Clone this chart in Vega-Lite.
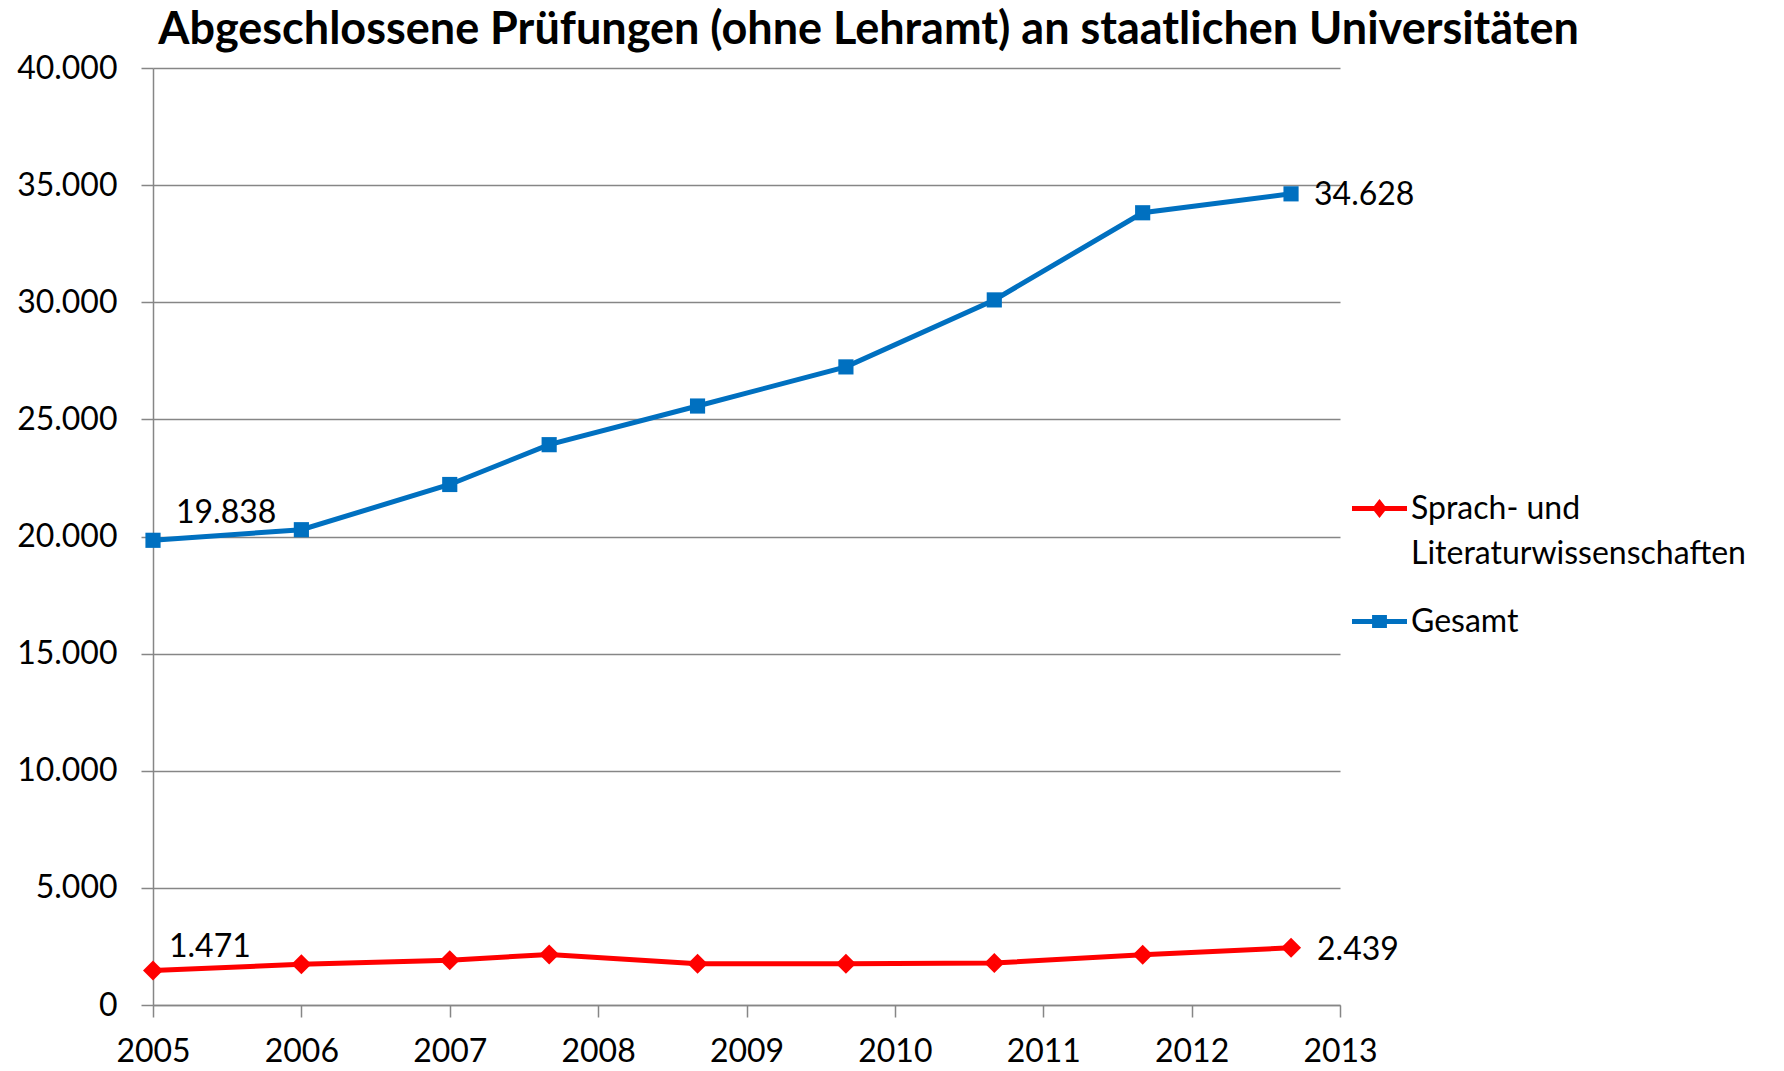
{
  "$schema": "https://vega.github.io/schema/vega-lite/v6.json",
  "width": 1187,
  "height": 937,
  "padding": {"left": 16, "top": 8, "right": 5, "bottom": 5},
  "background": "white",
  "config": {
    "locale": {"number": {"decimal": ",", "thousands": ".", "grouping": [3], "currency": ["", " €"]}},
    "font": "Lato",
    "view": {"stroke": null},
    "style": {"guide-label": {"lineHeight": 45}}
  },
  "title": {
    "text": "Abgeschlossene Prüfungen (ohne Lehramt) an staatlichen Universitäten",
    "font": "Lato", "fontSize": 45, "fontWeight": "bold", "color": "black",
    "anchor": "middle", "dx": 122, "offset": -1
  },
  "data": {"values": [
    {"Jahr": 2005, "Reihe": "Gesamt", "Anzahl": 19838},
    {"Jahr": 2006, "Reihe": "Gesamt", "Anzahl": 20290},
    {"Jahr": 2007, "Reihe": "Gesamt", "Anzahl": 22220},
    {"Jahr": 2007.67, "Reihe": "Gesamt", "Anzahl": 23920},
    {"Jahr": 2008.67, "Reihe": "Gesamt", "Anzahl": 25570},
    {"Jahr": 2009.67, "Reihe": "Gesamt", "Anzahl": 27240},
    {"Jahr": 2010.67, "Reihe": "Gesamt", "Anzahl": 30100},
    {"Jahr": 2011.67, "Reihe": "Gesamt", "Anzahl": 33820},
    {"Jahr": 2012.67, "Reihe": "Gesamt", "Anzahl": 34628},
    {"Jahr": 2005, "Reihe": "Sprach- und Literaturwissenschaften", "Anzahl": 1471},
    {"Jahr": 2006, "Reihe": "Sprach- und Literaturwissenschaften", "Anzahl": 1740},
    {"Jahr": 2007, "Reihe": "Sprach- und Literaturwissenschaften", "Anzahl": 1910},
    {"Jahr": 2007.67, "Reihe": "Sprach- und Literaturwissenschaften", "Anzahl": 2160},
    {"Jahr": 2008.67, "Reihe": "Sprach- und Literaturwissenschaften", "Anzahl": 1760},
    {"Jahr": 2009.67, "Reihe": "Sprach- und Literaturwissenschaften", "Anzahl": 1760},
    {"Jahr": 2010.67, "Reihe": "Sprach- und Literaturwissenschaften", "Anzahl": 1790},
    {"Jahr": 2011.67, "Reihe": "Sprach- und Literaturwissenschaften", "Anzahl": 2150},
    {"Jahr": 2012.67, "Reihe": "Sprach- und Literaturwissenschaften", "Anzahl": 2439}
  ]},
  "encoding": {
    "x": {
      "field": "Jahr", "type": "quantitative", "title": null,
      "scale": {"domain": [2005, 2013], "nice": false, "zero": false},
      "axis": {
        "values": [2005, 2006, 2007, 2008, 2009, 2010, 2011, 2012, 2013],
        "format": "d", "grid": false, "labelFlush": false, "labelOverlap": false,
        "labelFont": "Lato", "labelFontSize": 32, "labelColor": "black", "labelPadding": 19,
        "tickSize": 12, "tickColor": "#868686", "tickWidth": 1.5,
        "domainColor": "#868686", "domainWidth": 1.5
      }
    },
    "y": {
      "field": "Anzahl", "type": "quantitative", "title": null,
      "scale": {"domain": [0, 40000], "nice": false},
      "axis": {
        "values": [0, 5000, 10000, 15000, 20000, 25000, 30000, 35000, 40000],
        "format": ",d", "grid": true, "gridColor": "#868686", "gridWidth": 1.5,
        "labelFont": "Lato", "labelFontSize": 32, "labelColor": "black", "labelPadding": 24,
        "tickSize": 12, "tickColor": "#868686", "tickWidth": 1.5,
        "domainColor": "#868686", "domainWidth": 1.5
      }
    }
  },
  "layer": [
    {
      "transform": [{"filter": "datum.Reihe == 'Sprach- und Literaturwissenschaften'"}],
      "mark": {"type": "line", "strokeWidth": 5, "color": "#FF0000"},
      "encoding": {}
    },
    {
      "transform": [{"filter": "datum.Reihe == 'Gesamt'"}],
      "mark": {"type": "line", "strokeWidth": 5, "color": "#0070C0"},
      "encoding": {}
    },
    {
      "transform": [{"filter": "datum.Reihe == 'Sprach- und Literaturwissenschaften'"}],
      "mark": {"type": "point", "filled": true, "shape": "diamond", "size": 400, "color": "#FF0000", "opacity": 1}
    },
    {
      "transform": [{"filter": "datum.Reihe == 'Gesamt'"}],
      "mark": {"type": "point", "filled": true, "shape": "square", "size": 230, "color": "#0070C0", "opacity": 1}
    },
    {
      "mark": {"type": "point", "filled": true, "size": 0, "opacity": 1},
      "encoding": {
        "color": {"field": "Reihe", "type": "nominal",
          "scale": {"domain": ["Sprach- und Literaturwissenschaften", "Gesamt"], "range": ["#FF0000", "#0070C0"]},
          "legend": {
            "orient": "none", "legendX": 1199, "legendY": 413, "title": null,
            "symbolSize": 3025, "symbolOpacity": 1, "symbolStrokeWidth": 0,
            "labelFont": "Lato", "labelFontSize": 32, "labelColor": "black", "labelLimit": 600,
            "labelOffset": 4, "rowPadding": 24,
            "labelExpr": "datum.label == 'Sprach- und Literaturwissenschaften' ? ['Sprach- und', 'Literaturwissenschaften'] : datum.label"
          }},
        "shape": {"field": "Reihe", "type": "nominal",
          "scale": {"domain": ["Sprach- und Literaturwissenschaften", "Gesamt"],
            "range": [
              "M-1,-0.09L-0.2,-0.09L0,-0.345L0.2,-0.09L1,-0.09L1,0.09L0.2,0.09L0,0.345L-0.2,0.09L-1,0.09Z",
              "M-1,-0.09L-0.27,-0.09L-0.27,-0.24L0.27,-0.24L0.27,-0.09L1,-0.09L1,0.09L0.27,0.09L0.27,0.24L-0.27,0.24L-0.27,0.09L-1,0.09Z"
            ]}}
      }
    },
    {
      "transform": [{"filter": "datum.Reihe == 'Gesamt' && datum.Jahr == 2005"}],
      "mark": {"type": "text", "align": "left", "baseline": "middle", "dx": 23, "dy": -27, "font": "Lato", "fontSize": 32, "color": "black"},
      "encoding": {"text": {"field": "Anzahl", "type": "quantitative", "format": ",d"}}
    },
    {
      "transform": [{"filter": "datum.Reihe == 'Gesamt' && datum.Jahr == 2012.67"}],
      "mark": {"type": "text", "align": "left", "baseline": "middle", "dx": 23, "dy": 1, "font": "Lato", "fontSize": 32, "color": "black"},
      "encoding": {"text": {"field": "Anzahl", "type": "quantitative", "format": ",d"}}
    },
    {
      "transform": [{"filter": "datum.Reihe == 'Sprach- und Literaturwissenschaften' && datum.Jahr == 2005"}],
      "mark": {"type": "text", "align": "left", "baseline": "middle", "dx": 16, "dy": -24, "font": "Lato", "fontSize": 32, "color": "black"},
      "encoding": {"text": {"field": "Anzahl", "type": "quantitative", "format": ",d"}}
    },
    {
      "transform": [{"filter": "datum.Reihe == 'Sprach- und Literaturwissenschaften' && datum.Jahr == 2012.67"}],
      "mark": {"type": "text", "align": "left", "baseline": "middle", "dx": 26, "dy": 2, "font": "Lato", "fontSize": 32, "color": "black"},
      "encoding": {"text": {"field": "Anzahl", "type": "quantitative", "format": ",d"}}
    }
  ]
}
